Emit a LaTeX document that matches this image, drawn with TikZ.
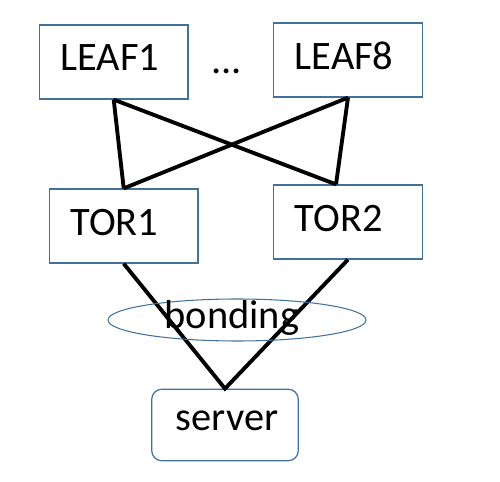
\documentclass[tikz,border=0pt]{standalone}
\usepackage{fontspec}
\setmainfont{Carlito}
\usetikzlibrary{shapes.geometric}
\definecolor{boxblue}{RGB}{65,113,156}

\begin{document}
\begin{tikzpicture}[x=0.02cm,y=-0.02cm,font=\fontsize{23}{27}\selectfont,
  sw/.style={draw=boxblue,line width=0.7pt,inner xsep=0.42cm,text width=2.13cm,align=left,minimum height=1.48cm,text depth=0.16cm},
  link/.style={line width=2.2pt}]
  \useasboundingbox (0,0) rectangle (500,482);
  \node[sw] (leaf1) at (113.7,62) {LEAF1};
  \node[sw] (leaf8) at (348,60) {LEAF8};
  \node[anchor=base,inner sep=0pt] (dots) at (226.5,73.3) {...};
  \node[sw] (tor1) at (123.7,226) {TOR1};
  \node[sw] (tor2) at (348,222) {TOR2};
  \node[draw=boxblue,line width=0.7pt,rounded corners=0.2cm,inner xsep=0.4cm,text width=2.13cm,align=right,minimum height=1.43cm,text depth=0.16cm] (server) at (225,425) {server};
  \draw[link] (leaf1.south) -- (tor1.north) (leaf1.south) -- ([xshift=-0.24cm]tor2.north);
  \draw[link] (leaf8.south) -- (tor1.north) (leaf8.south) -- ([xshift=-0.24cm]tor2.north);
  \draw[link] (tor1.south) -- (server.north) -- (tor2.south);
  \node[ellipse,draw=boxblue,line width=0.6pt,minimum width=5.16cm,minimum height=0.84cm,inner sep=0pt] (bond) at (237,320) {};
  \node (bondlbl) at (232,318.4) {bonding};
\end{tikzpicture}
\end{document}
